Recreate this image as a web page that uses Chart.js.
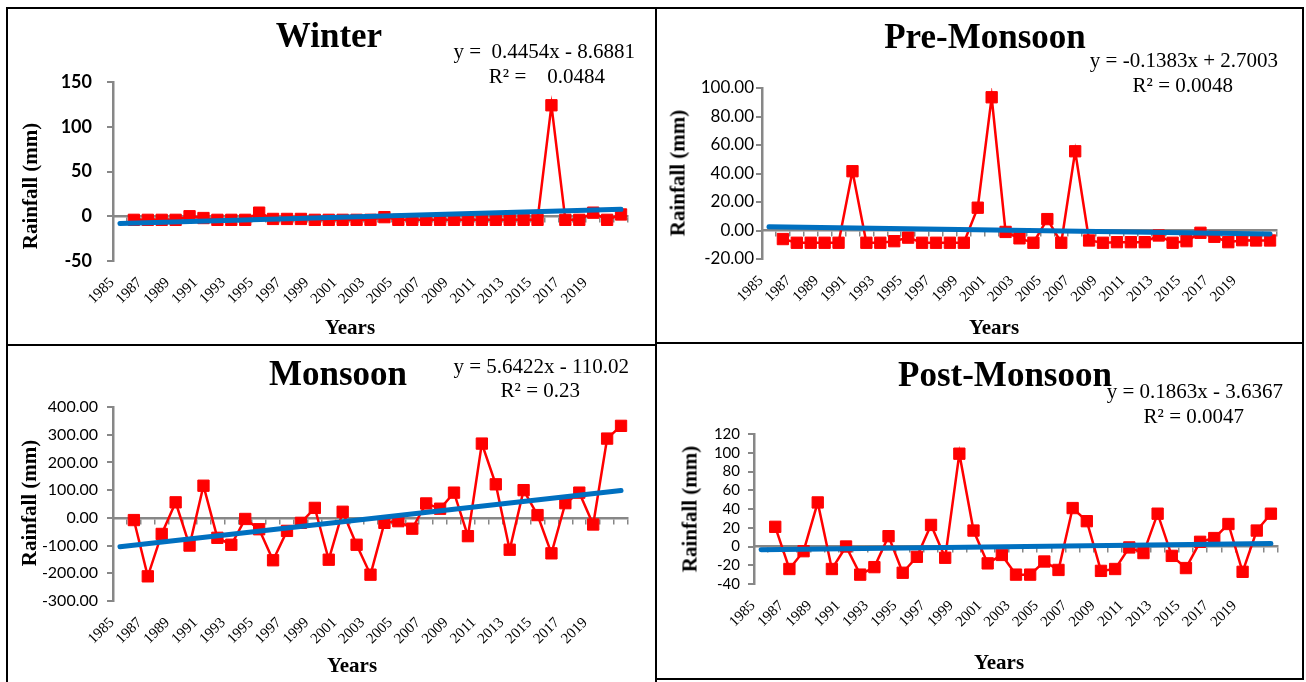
<!DOCTYPE html>
<html>
<head>
<meta charset="utf-8">
<script src="https://cdn.jsdelivr.net/npm/chart.js@4.4.0/dist/chart.umd.min.js"></script>
<style>
body { margin:0; background:#fff; width:1306px; height:682px; position:relative; overflow:hidden; }
canvas, .t, .ln { position:absolute; }
.t { font-family:"Liberation Serif","Times New Roman",serif; color:#000; white-space:pre; line-height:1; }
.ln { background:#000; }
</style>
</head>
<body>
<div class="ln" style="left:6px;top:7px;width:1298px;height:2px"></div>
<div class="ln" style="left:6px;top:7px;width:2px;height:675px"></div>
<div class="ln" style="left:1302px;top:7px;width:2px;height:673px"></div>
<div class="ln" style="left:655px;top:7px;width:2px;height:675px"></div>
<div class="ln" style="left:6px;top:344px;width:650px;height:2px"></div>
<div class="ln" style="left:655px;top:342px;width:649px;height:2px"></div>
<div class="ln" style="left:655px;top:678px;width:649px;height:2px"></div>

<canvas id="cWinter"></canvas>
<canvas id="cPre"></canvas>
<canvas id="cMonsoon"></canvas>
<canvas id="cPost"></canvas>

<script>
var years = [1985,1986,1987,1988,1989,1990,1991,1992,1993,1994,1995,1996,1997,1998,1999,2000,
             2001,2002,2003,2004,2005,2006,2007,2008,2009,2010,2011,2012,2013,2014,2015,2016,
             2017,2018,2019,2020,2021];

// rainfall anomaly (mm), 1985 has no value
var winter = [null, -4,-4,-4,-4,0,-2,-4,-4,-4,4, -3,-3,-3,-4,-4,-4,-4,-4,-1,-4,
              -4,-4,-4,-4,-4,-4,-4,-4,-4,-4, 124,-4,-4,4,-4,2];
var preMonsoon = [null, -6,-8.6,-8.6,-8.6,-8.6,41.6,-8.6,-8.6,-7.5,-5, -8.6,-8.6,-8.6,-8.6,16,93.5,-1,-5.5,-8.6,8,
                  -8.6,55.6,-7,-8.6,-8.2,-8.2,-8.2,-3.5,-8.6,-7.5, -1.6,-4.4,-8.2,-6.8,-7,-7];
var monsoon = [null, -8,-211,-58,56,-100,116,-72,-97,-4,-41, -153,-47,-18,36,-151,22,-97,-205,-18,-12,
               -39,52,33,91,-66,268,121,-115,100,10, -128,53,91,-24,286,332];
var postMonsoon = [null, 21,-24,-5,47,-24,0,-30,-22,11,-28, -11,23,-12,99,17,-18,-9,-30,-30,-16,
                   -25,41,27,-26,-24,-1,-7,35,-10,-23, 5,9,24,-27,17,35];

// linear trend line, value at first (1985) and last (2021) category
var winterTrend = [-8.2, 7.8];
var preTrend = [2.6, -2.4];
var monsoonTrend = [-104.4, 98.7];
var postTrend = [-3.5, 3.3];

var gray = '#878787';
var serif = '"Liberation Serif","Times New Roman",serif';

function addText(txt, x, base, size, bold, align) {
    var d = document.createElement('div');
    d.className = 't';
    d.textContent = txt;
    d.style.fontSize = size + 'px';
    d.style.fontWeight = bold ? 'bold' : 'normal';
    d.style.left = x + 'px';
    d.style.top = (base - 0.8375 * size) + 'px';
    if (align == 'center') d.style.transform = 'translateX(-50%)';
    if (align == 'right') d.style.transform = 'translateX(-100%)';
    document.body.appendChild(d);
}

function addYTitle(cx, cy) {
    var d = document.createElement('div');
    d.className = 't';
    d.textContent = 'Rainfall (mm)';
    d.style.fontSize = '21px';
    d.style.fontWeight = 'bold';
    d.style.left = cx + 'px';
    d.style.top = cy + 'px';
    d.style.transform = 'translate(-50%,-50%) rotate(-90deg)';
    document.body.appendChild(d);
}

function makeChart(id, box, area, values, trend, y) {
    var cv = document.getElementById(id);
    cv.width = box.w; cv.height = box.h;
    cv.style.left = box.x + 'px'; cv.style.top = box.y + 'px';
    var trendData = years.map(function(yr, i) {
        if (i == 0) return trend[0];
        if (i == years.length - 1) return trend[1];
        return null;
    });
    return new Chart(cv, {
        type: 'line',
        data: {
            labels: years,
            datasets: [{
                data: trendData, xAxisID: 'x', yAxisID: 'y',
                borderColor: '#0070C0', borderWidth: 5, pointRadius: 0,
                spanGaps: true, borderCapStyle: 'round', order: 0
            }, {
                data: values, xAxisID: 'x', yAxisID: 'y',
                borderColor: '#FF0000', borderWidth: 2.5,
                pointStyle: 'rect', pointRadius: 8,
                pointBackgroundColor: '#FF0000', pointBorderColor: '#FF0000', pointBorderWidth: 1,
                order: 1
            }]
        },
        options: {
            responsive: false,
            animation: false,
            layout: { padding: { top: area.t - box.y, right: box.x + box.w - area.r, left: 0, bottom: 0 } },
            plugins: { legend: { display: false }, tooltip: { enabled: false } },
            scales: {
                x: {
                    type: 'category', offset: true,
                    grid: { display: false, drawTicks: false },
                    border: { display: false },
                    ticks: {
                        autoSkip: false, maxRotation: 45, minRotation: 45, padding: 13, labelOffset: -8,
                        color: '#000', font: { family: serif, size: 15 },
                        // every other year, last one shown is 2019
                        callback: function(v, i) { return (i % 2 == 0 && i < 35) ? this.getLabelForValue(v) : ''; }
                    },
                    afterFit: function(s) { s.height = box.y + box.h - area.b; }
                },
                xz: {
                    axis: 'x', type: 'category', offset: true, position: { y: 0 },
                    grid: { drawOnChartArea: false, offset: true, color: gray, lineWidth: 1.5, tickLength: 5 },
                    border: { color: gray, width: 2.5 },
                    ticks: { display: false, autoSkip: false }
                },
                y: {
                    min: y.min, max: y.max,
                    grid: { drawOnChartArea: false, color: gray, lineWidth: 2, tickLength: 6 },
                    border: { color: gray, width: 2.5 },
                    ticks: {
                        stepSize: y.step, padding: y.pad, color: '#000', autoSkip: false,
                        font: { family: 'Lato, "Liberation Sans", sans-serif', size: y.size, weight: y.bold ? 'bold' : 'normal' },
                        callback: function(v) { return y.dec ? v.toFixed(2) : v; }
                    },
                    afterFit: function(s) { s.width = area.l - box.x; }
                }
            }
        }
    });
}

makeChart('cWinter', {x:9, y:10, w:645, h:333}, {l:113, t:82, r:628, b:261}, winter, winterTrend,
          {min:-50, max:150, step:50, pad:15, size:18, bold:true, dec:false});
makeChart('cPre', {x:658, y:10, w:644, h:331}, {l:762, t:88, r:1277, b:259}, preMonsoon, preTrend,
          {min:-20, max:100, step:20, pad:2, size:17, bold:false, dec:true});
makeChart('cMonsoon', {x:9, y:347, w:645, h:333}, {l:113, t:407, r:628, b:601}, monsoon, monsoonTrend,
          {min:-300, max:400, step:100, pad:9, size:16, bold:false, dec:true});
makeChart('cPost', {x:658, y:345, w:644, h:333}, {l:754, t:434, r:1278, b:584}, postMonsoon, postTrend,
          {min:-40, max:120, step:20, pad:8, size:15, bold:false, dec:false});

// titles and trend equations
addText('Winter', 329, 47, 35, true, 'center');
addText('y =  0.4454x - 8.6881', 635, 59, 21, false, 'right');
addText('R\u00b2 =    0.0484', 605, 84, 21, false, 'right');
addText('Pre-Monsoon', 985, 48, 35, true, 'center');
addText('y = -0.1383x + 2.7003', 1278, 68, 21, false, 'right');
addText('R\u00b2 = 0.0048', 1233, 93, 21, false, 'right');
addText('Monsoon', 338, 385, 35, true, 'center');
addText('y = 5.6422x - 110.02', 629, 374, 21, false, 'right');
addText('R\u00b2 = 0.23', 580, 398, 21, false, 'right');
addText('Post-Monsoon', 1005, 386, 35, true, 'center');
addText('y = 0.1863x - 3.6367', 1283, 399, 21, false, 'right');
addText('R\u00b2 = 0.0047', 1244, 424, 21, false, 'right');

// axis titles
addText('Years', 350, 335, 21, true, 'center');
addText('Years', 994, 335, 21, true, 'center');
addText('Years', 352, 673, 21, true, 'center');
addText('Years', 999, 670, 21, true, 'center');
addYTitle(30, 186);
addYTitle(678, 173);
addYTitle(29, 503);
addYTitle(690, 509);
</script>
</body>
</html>
